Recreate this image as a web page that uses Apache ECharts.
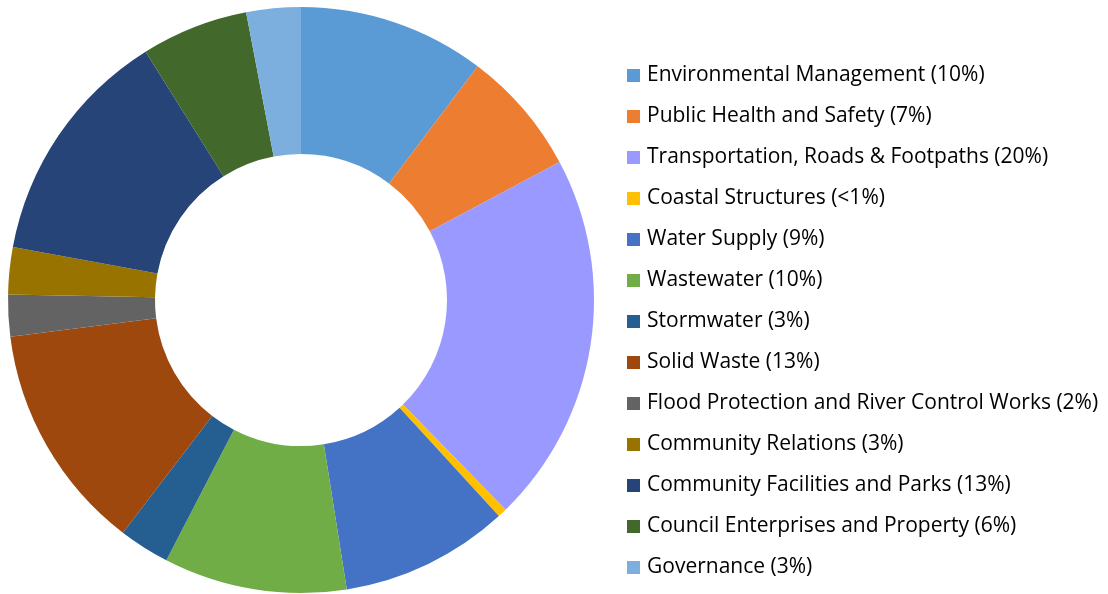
<!DOCTYPE html>
<html><head><meta charset="utf-8">
<script src="https://cdn.jsdelivr.net/npm/echarts@6/dist/echarts.min.js"></script>
<style>html,body{margin:0;padding:0;background:#fff}#c{width:1108px;height:594px}</style>
</head><body><div id="c"></div>
<script>
const categories = ["Environmental Management (10%)","Public Health and Safety (7%)","Transportation, Roads & Footpaths (20%)","Coastal Structures (<1%)","Water Supply (9%)","Wastewater (10%)","Stormwater (3%)","Solid Waste (13%)","Flood Protection and River Control Works (2%)","Community Relations (3%)","Community Facilities and Parks (13%)","Council Enterprises and Property (6%)","Governance (3%)"];
const values = [10.3, 6.9, 20.5, 0.5, 9.3, 10.1, 2.8, 12.6, 2.3, 2.6, 13.2, 5.9, 3.0];
const colors = ["#5B9BD5","#ED7D31","#9999FF","#FFC000","#4472C4","#70AD47","#255E91","#9E480E","#636363","#997300","#264478","#43682B","#7CAFDD"];
const chart = echarts.init(document.getElementById('c'));
chart.setOption({
  animation:false,
  color: colors,
  legend:{orient:'vertical',left:627,top:65,padding:0,itemWidth:13,itemHeight:13,itemGap:20,icon:'rect',
    textStyle:{fontFamily:'Open Sans',fontSize:21,color:'#000',padding:[0,0,0,2]},
    data:categories},
  series:[{type:'pie',center:[301,300],radius:[146,293],startAngle:90,clockwise:true,
    label:{show:false},labelLine:{show:false},avoidLabelOverlap:false,
    itemStyle:{borderWidth:0},
    emphasis:{disabled:true},
    data:categories.map((n,i)=>({name:n,value:values[i]}))}]
});
</script></body></html>
